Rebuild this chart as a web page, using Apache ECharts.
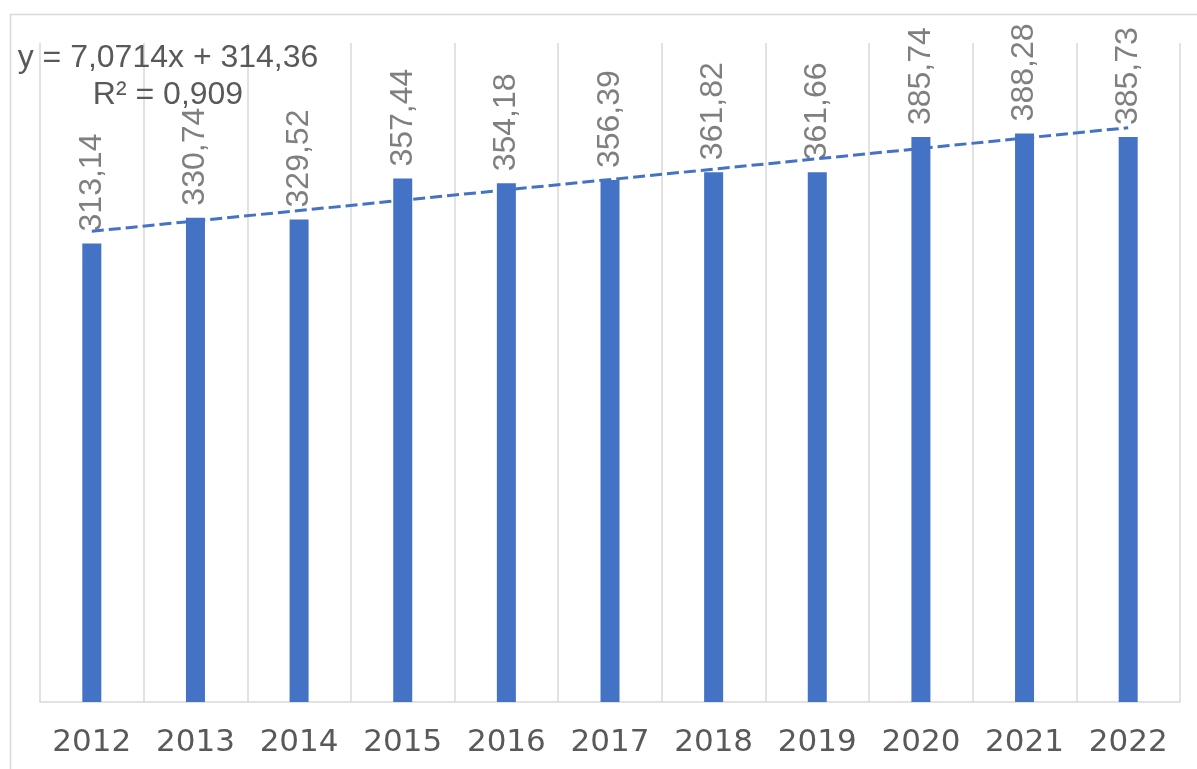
<!DOCTYPE html>
<html>
<head>
<meta charset="utf-8">
<script src="https://cdn.jsdelivr.net/npm/echarts@6/dist/echarts.min.js"></script>
<style>
  html, body { margin: 0; padding: 0; background: #fff; }
  #chart { width: 1197px; height: 769px; }
</style>
</head>
<body>
<div id="chart"></div>
<script>
  // years and values
  var years = ['2012', '2013', '2014', '2015', '2016', '2017', '2018', '2019', '2020', '2021', '2022']
  var values = [313.14, 330.74, 329.52, 357.44, 354.18, 356.39, 361.82, 361.66, 385.74, 388.28, 385.73]
  // linear trend ends (first and last year), as drawn in the picture
  var trendEnds = [321.43, 392.15]
  var trendLabel = ['y = 7,0714x + 314,36', 'R² = 0,909']

  var trendData = years.map(function (y, i) {
    if (i === 0) return trendEnds[0]
    if (i === years.length - 1) return trendEnds[1]
    return null
  })

  var chart = echarts.init(document.getElementById('chart'))
  chart.setOption({
    animation: false,
    backgroundColor: '#fff',
    grid: {
      left: 40,
      right: 17,
      top: 43,
      bottom: 67
    },
    graphic: [
      {
        type: 'rect',
        shape: { x: 10.5, y: 14.5, width: 1400, height: 900 },
        style: { fill: null, stroke: '#d9d9d9', lineWidth: 1.5 },
        silent: true,
        z: -10
      },
      {
        type: 'text',
        x: 168,
        y: 40,
        style: {
          text: trendLabel.join('\n'),
          fill: '#595959',
          font: '32px "Liberation Sans", Arial, sans-serif',
          textAlign: 'center',
          lineHeight: 37
        },
        z: 10
      }
    ],
    xAxis: {
      type: 'category',
      data: years,
      boundaryGap: true,
      axisTick: { show: false },
      axisLine: { lineStyle: { color: '#d9d9d9', width: 1.5 } },
      splitLine: { show: true, lineStyle: { color: '#d9d9d9', width: 1.5 } },
      axisLabel: {
        color: '#595959',
        fontSize: 31,
        fontFamily: 'DejaVu Sans',
        margin: 25
      }
    },
    yAxis: {
      type: 'value',
      min: 0,
      max: 450,
      show: false,
      splitLine: { show: false }
    },
    series: [
      {
        name: 'values',
        type: 'bar',
        data: values,
        barWidth: 19,
        itemStyle: { color: '#4472c4' },
        label: {
          show: true,
          position: 'top',
          rotate: 90,
          align: 'left',
          verticalAlign: 'middle',
          distance: 12,
          color: '#7f7f7f',
          fontSize: 32,
          fontFamily: 'Liberation Sans',
          formatter: function (p) {
            return p.value.toFixed(2).replace('.', ',')
          }
        }
      },
      {
        name: 'trend',
        type: 'line',
        data: trendData,
        connectNulls: true,
        symbol: 'none',
        lineStyle: { color: '#4472c4', width: 3, type: [12, 5] },
        z: 5
      }
    ]
  })
</script>
</body>
</html>
